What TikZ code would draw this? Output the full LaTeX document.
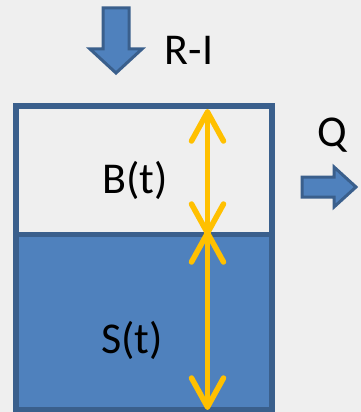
\documentclass[tikz,border=0pt]{standalone}
\usepackage{fontspec}
\setmainfont{Carlito}
\begin{document}
\begin{tikzpicture}[x=1pt,y=-1pt,
  frame/.style={draw=boxedge,line width=5.5pt},
  blockarrow/.style={draw=boxedge,fill=waterblue,line width=3pt,line join=miter},
  levelmark/.style={draw=levelyellow,line width=5.5pt,line cap=round,line join=round},
  label/.style={font=\fontsize{44}{44}\selectfont,anchor=base,inner sep=0pt}]
\definecolor{bg}{HTML}{EFEFEF}
\definecolor{boxedge}{HTML}{3A5F8C}
\definecolor{waterblue}{HTML}{4F81BD}
\definecolor{levelyellow}{HTML}{FFC000}
% canvas
\fill[bg] (0,0) rectangle (361,412);
\useasboundingbox (0,0) rectangle (361,412);
% storage reservoir: filled part S(t) below, empty part B(t) above
\fill[waterblue] (16,234.5) rectangle (272,410);
\draw[frame] (16,106) rectangle (272,410);
\draw[frame] (16,234.5) -- (272,234.5);
% inflow and outflow arrows
\draw[blockarrow] (103,8) -- (129,8) -- (129,49) -- (142,49) -- (116,73) -- (90,49) -- (103,49) -- cycle;
\draw[blockarrow] (302,177) -- (334,177) -- (334,167) -- (356,187) -- (334,207) -- (334,197) -- (302,197) -- cycle;
% level markers
\coordinate (top) at (207.5,112);
\coordinate (mid) at (207.5,233);
\coordinate (bot) at (207.5,407);
\draw[levelmark] (top) -- (mid);
\draw[levelmark] (top) ++(-16,29) -- (top) -- ++(16,29);
\draw[levelmark] (mid) ++(-16,-29) -- (mid) -- ++(16,-29);
\draw[levelmark] (mid) -- (bot);
\draw[levelmark] (mid) ++(-16,29) -- (mid) -- ++(16,29);
\draw[levelmark] (bot) ++(-16,-29) -- (bot) -- ++(16,-29);
% labels
\node[label] (ri) at (189,65) {R-I};
\node[label] (q) at (332,146) {Q};
\node[label] (b) at (135,193) {B(t)};
\node[label] (s) at (132,353) {S(t)};
\end{tikzpicture}
\end{document}
